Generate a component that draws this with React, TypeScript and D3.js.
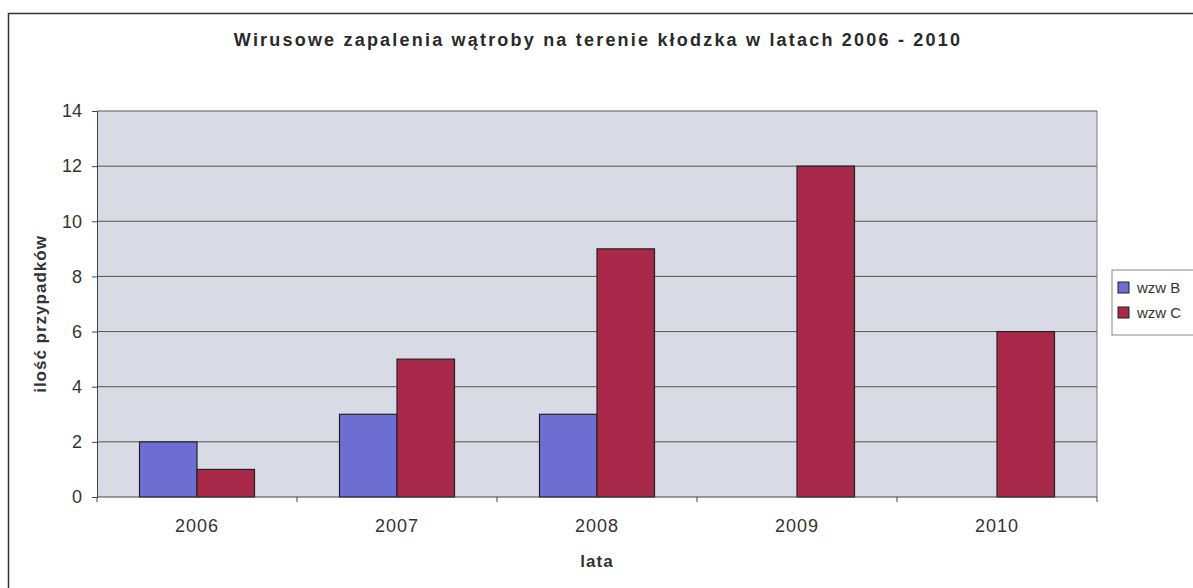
import React, { useEffect, useRef } from "react";
import * as d3 from "d3";

const years = ["2006", "2007", "2008", "2009", "2010"];
const wzwB = [2, 3, 3, 0, 0];
const wzwC = [1, 5, 9, 12, 6];
const seriesNames = ["wzw B", "wzw C"];
const seriesColors = ["#6d6dd2", "#a8294a"];
const yTicks = [0, 2, 4, 6, 8, 10, 12, 14];

export default function App() {
    const ref = useRef<SVGSVGElement>(null);

    useEffect(() => {
        const svg = d3.select(ref.current);
        svg.selectAll("*").remove();

        const margin = { top: 111, left: 97, right: 96, bottom: 91 };
        const W = 1193, H = 588;
        const width = W - margin.left - margin.right,
            height = H - margin.top - margin.bottom;
        const font = "'Liberation Sans', Arial, sans-serif";

        // outer chart frame (right/bottom cropped off)
        svg.append("path")
            .attr("d", "M8.5," + H + "V13.5H" + W)
            .attr("fill", "none")
            .attr("stroke", "#333")
            .attr("stroke-width", 1.5);

        svg.append("text")
            .attr("x", 598)
            .attr("y", 46)
            .attr("text-anchor", "middle")
            .style("font-family", font)
            .style("font-weight", "bold")
            .style("font-size", "18px")
            .style("letter-spacing", "2.2px")
            .attr("fill", "#2a2a2a")
            .text("Wirusowe zapalenia wątroby na terenie kłodzka w latach 2006 - 2010");

        const g = svg.append("g")
            .attr("transform", "translate(" + margin.left + "," + margin.top + ")");

        const x0 = d3.scaleBand().domain(years).range([0, width]).paddingInner(0.425).paddingOuter(0.2125);
        const x1 = d3.scaleBand().domain(seriesNames).range([0, x0.bandwidth()]);
        const y = d3.scaleLinear().domain([0, 14]).range([height, 0]);

        g.append("rect")
            .attr("width", width)
            .attr("height", height)
            .attr("fill", "#d8dbe5");

        // gridlines
        g.selectAll(".grid")
            .data(yTicks.slice(1))
            .enter()
            .append("line")
            .attr("x1", 0)
            .attr("x2", width)
            .attr("y1", d => y(d))
            .attr("y2", d => y(d))
            .attr("stroke", "#555")
            .attr("stroke-width", 1);

        g.append("line")
            .attr("x1", width).attr("x2", width)
            .attr("y1", 0).attr("y2", height)
            .attr("stroke", "#777");

        const data = years.map((yr, i) => ({ year: yr, values: [wzwB[i], wzwC[i]] }));

        const groups = g.selectAll(".grp")
            .data(data)
            .enter()
            .append("g")
            .attr("transform", d => "translate(" + x0(d.year) + ",0)");

        groups.selectAll("rect")
            .data(d => d.values.map((v, i) => ({ v, i })).filter(d => d.v > 0))
            .enter()
            .append("rect")
            .attr("x", d => x1(seriesNames[d.i]))
            .attr("y", d => y(d.v))
            .attr("width", x1.bandwidth())
            .attr("height", d => height - y(d.v))
            .attr("fill", d => seriesColors[d.i])
            .attr("stroke", "#222")
            .attr("stroke-width", 1.2);

        // axes
        const yAxis = g.append("g")
            .call(d3.axisLeft(y).tickValues(yTicks).tickSize(5).tickPadding(10));
        yAxis.select(".domain").attr("stroke", "#444");
        yAxis.selectAll("line").attr("stroke", "#444");
        yAxis.selectAll("text")
            .style("font-family", font)
            .style("font-size", "18px")
            .attr("fill", "#333");

        const bounds = years.map((yr, i) => i * width / years.length).concat([width]);
        g.append("line")
            .attr("x1", 0).attr("x2", width)
            .attr("y1", height).attr("y2", height)
            .attr("stroke", "#444");
        g.selectAll(".xtick")
            .data(bounds)
            .enter()
            .append("line")
            .attr("x1", d => d).attr("x2", d => d)
            .attr("y1", height).attr("y2", height + 5)
            .attr("stroke", "#444");
        g.selectAll(".xlabel")
            .data(years)
            .enter()
            .append("text")
            .attr("x", d => x0(d)! + x0.bandwidth() / 2)
            .attr("y", height + 35)
            .attr("text-anchor", "middle")
            .style("font-family", font)
            .style("font-size", "18px")
            .style("letter-spacing", "1px")
            .attr("fill", "#333")
            .text(d => d);

        svg.append("text")
            .attr("x", margin.left + width / 2)
            .attr("y", 567)
            .attr("text-anchor", "middle")
            .style("font-family", font)
            .style("font-weight", "bold")
            .style("font-size", "17px")
            .style("letter-spacing", "1px")
            .attr("fill", "#333")
            .text("lata");

        svg.append("text")
            .attr("transform", "translate(46," + 314 + ") rotate(-90)")
            .attr("text-anchor", "middle")
            .style("font-family", font)
            .style("font-weight", "bold")
            .style("font-size", "17px")
            .style("letter-spacing", "1px")
            .attr("fill", "#333")
            .text("ilość przypadków");

        // legend
        const legend = svg.append("g").attr("transform", "translate(1112,270)");
        legend.append("rect")
            .attr("width", 100)
            .attr("height", 65)
            .attr("fill", "#fff")
            .attr("stroke", "#888");
        seriesNames.forEach((name, i) => {
            legend.append("rect")
                .attr("x", 6)
                .attr("y", 12 + i * 25)
                .attr("width", 11)
                .attr("height", 11)
                .attr("fill", seriesColors[i])
                .attr("stroke", "#222");
            legend.append("text")
                .attr("x", 25)
                .attr("y", 23 + i * 25)
                .style("font-family", font)
                .style("font-size", "15px")
                .attr("fill", "#333")
                .text(name);
        });
    }, []);

    return (
        <svg ref={ref} width={1193} height={588} style={{ position: "absolute", left: 0, top: 0, background: "#fff" }} />
    );
}
